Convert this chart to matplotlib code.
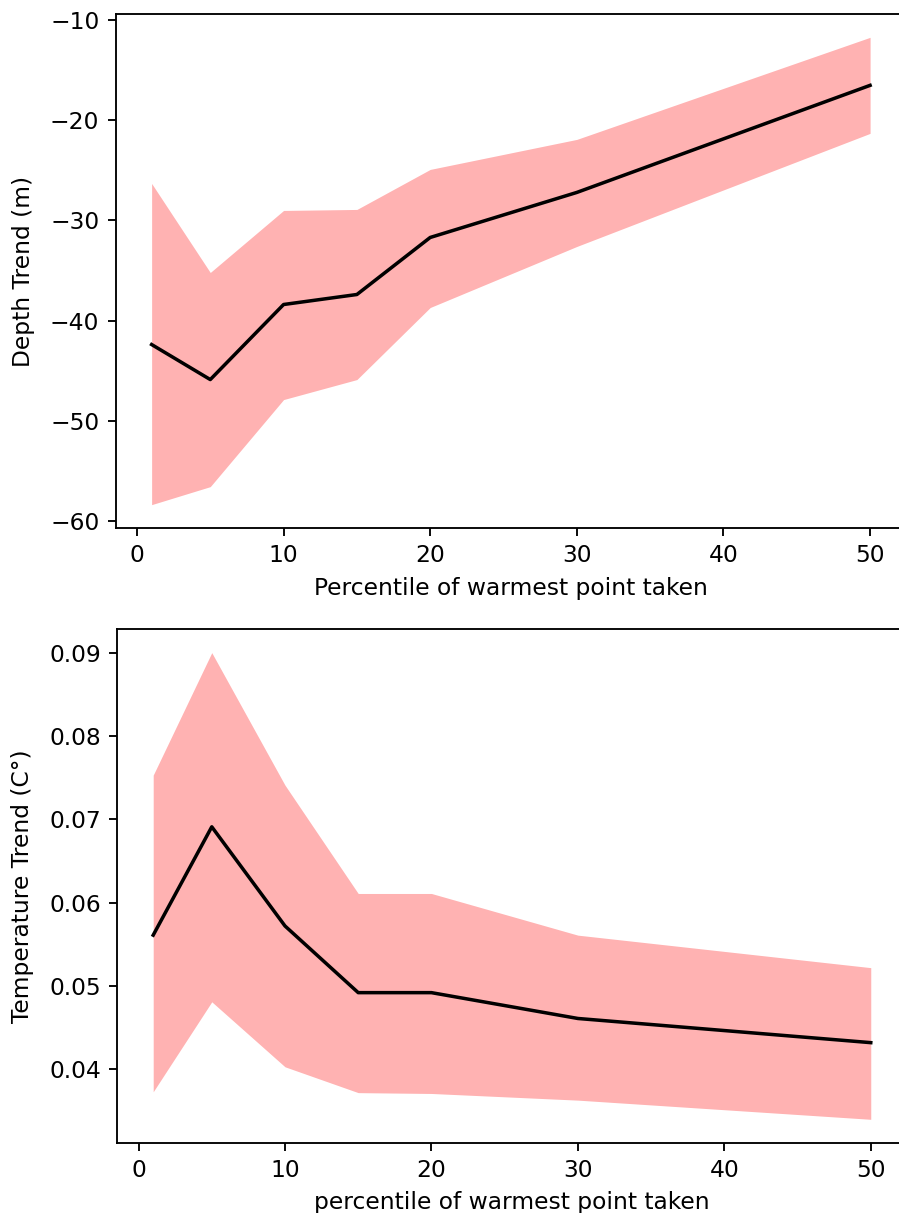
import matplotlib
matplotlib.use("Agg")
import matplotlib.pyplot as plt

# percentiles used
pct = [1, 5, 10, 15, 20, 30, 50]

# depth trend (m): mean and band
depth_mean = [-42.4, -45.9, -38.4, -37.4, -31.7, -27.2, -16.5]
depth_hi = [-26.3, -35.2, -29.0, -28.9, -24.9, -21.9, -11.7]
depth_lo = [-58.4, -56.6, -47.9, -45.9, -38.7, -32.6, -21.3]

# temperature trend (C°): mean and band
temp_mean = [0.0561, 0.0691, 0.0572, 0.0492, 0.0492, 0.0461, 0.0432]
temp_hi = [0.0753, 0.0900, 0.0741, 0.0611, 0.0611, 0.0561, 0.0522]
temp_lo = [0.0373, 0.0481, 0.0403, 0.0372, 0.0371, 0.0363, 0.0340]

fig = plt.figure(figsize=(899 / 168, 1213 / 168), dpi=168)

# axes run past the right edge, as in the cropped original
ax1 = fig.add_axes([0.1287, 0.5647, 0.8791, 0.4238])
ax1.fill_between(pct, depth_lo, depth_hi, color='red', alpha=0.3, linewidth=0)
ax1.plot(pct, depth_mean, color='black')
ax1.set_ylabel("Depth Trend (m)", labelpad=6.5)
ax1.set_xlabel("Percentile of warmest point taken")

ax2 = fig.add_axes([0.1305, 0.0580, 0.8780, 0.4232])
ax2.fill_between(pct, temp_lo, temp_hi, color='red', alpha=0.3, linewidth=0)
ax2.plot(pct, temp_mean, color='black')
ax2.set_ylabel("Temperature Trend (C°)", labelpad=6.5)
ax2.set_xlabel("percentile of warmest point taken")

fig.savefig("out.png", dpi=168)
